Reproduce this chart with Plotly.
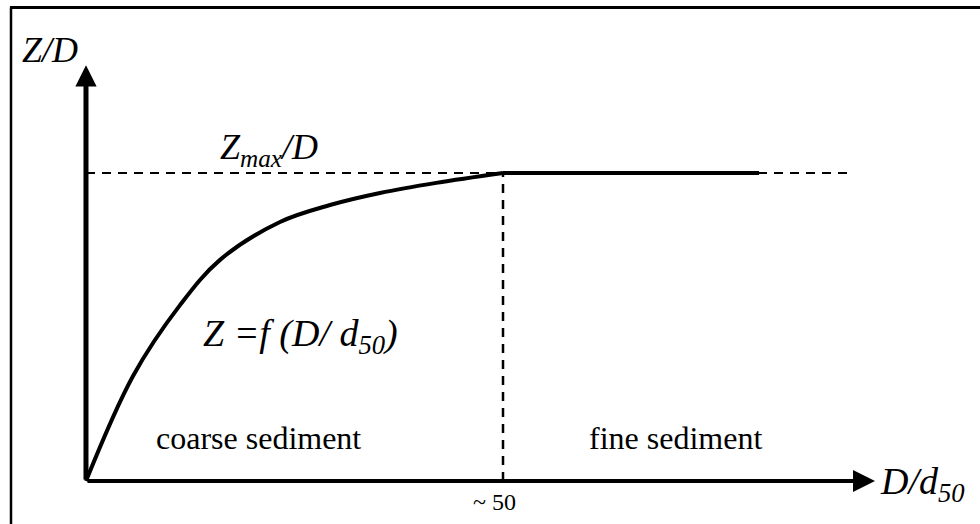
import plotly.graph_objects as go

# ---- data ----
curve_x = [0, 5.64, 11.27, 16.07, 23.26, 29.26, 35.25, 42.0, 50]
curve_y = [0, 0.341, 0.571, 0.718, 0.841, 0.896, 0.935, 0.968, 1.0]
zmax = 1.0
x_transition = 50
plateau_x = [50, 80.7]
dashed_end = 91.6
x_axis_end = 94.6
y_axis_end = 1.35
tick_label = "~ 50"

W, H = 980, 524
# axis ranges so that the plot fills the window
x_range = [-10.31, 107.19]
y_range = [-0.1396, 1.5617]

SERIF = "Liberation Serif, Times New Roman, serif"

fig = go.Figure()

# horizontal dashed Zmax/D line
fig.add_trace(go.Scatter(x=[0, dashed_end], y=[zmax, zmax], mode="lines",
                         line=dict(color="black", width=2, dash="9px,7px"),
                         hoverinfo="skip", showlegend=False))
# vertical dashed line at ~50
fig.add_trace(go.Scatter(x=[x_transition, x_transition], y=[0, zmax], mode="lines",
                         line=dict(color="black", width=2.5, dash="9px,7px"),
                         hoverinfo="skip", showlegend=False))
# curve
fig.add_trace(go.Scatter(x=curve_x, y=curve_y, mode="lines",
                         line=dict(color="black", width=4, shape="spline", smoothing=1.0),
                         hoverinfo="skip", showlegend=False))
# plateau
fig.add_trace(go.Scatter(x=plateau_x, y=[zmax, zmax], mode="lines",
                         line=dict(color="black", width=4),
                         hoverinfo="skip", showlegend=False))

annotations = []
# y axis arrow
annotations.append(dict(x=0, y=y_axis_end, ax=0, ay=0, xref="x", yref="y", axref="x", ayref="y",
                        showarrow=True, arrowhead=2, arrowsize=0.85, arrowwidth=5,
                        arrowcolor="black", text=""))
# x axis arrow
annotations.append(dict(x=x_axis_end, y=0, ax=0, ay=0, xref="x", yref="y", axref="x", ayref="y",
                        showarrow=True, arrowhead=2, arrowsize=1.1, arrowwidth=4,
                        arrowcolor="black", text=""))


def px(xp, yp):
    return xp / W, 1 - yp / H


def label(text, xp, yp, size, xanchor="left", yanchor="middle"):
    x, y = px(xp, yp)
    annotations.append(dict(text=text, x=x, y=y, xref="paper", yref="paper",
                            xanchor=xanchor, yanchor=yanchor, showarrow=False,
                            font=dict(family=SERIF, size=size, color="black")))


label("<i>Z/D</i>", 20, 50, 36)
label("<i>Z<sub>max</sub>/D</i>", 218, 149, 36)
label("<i>Z =f (D/ d<sub>50</sub>)</i>", 201, 336, 38)
label("coarse sediment", 258, 438, 32, xanchor="center")
label("fine sediment", 675, 438, 32, xanchor="center")
label("<i>D/d<sub>50</sub></i>", 878, 484, 38)
label(tick_label, 494, 502, 24, xanchor="center")

fig.update_layout(
    width=W, height=H,
    margin=dict(l=0, r=0, t=0, b=0),
    paper_bgcolor="white", plot_bgcolor="white",
    xaxis=dict(range=x_range, visible=False, domain=[0, 1]),
    yaxis=dict(range=y_range, visible=False, domain=[0, 1]),
    annotations=annotations,
    shapes=[
        dict(type="line", xref="paper", yref="paper", x0=10 / W, x1=1, y0=1 - 7.5 / H, y1=1 - 7.5 / H,
             line=dict(color="black", width=3)),
        dict(type="line", xref="paper", yref="paper", x0=11 / W, x1=11 / W, y0=0, y1=1 - 7.5 / H,
             line=dict(color="black", width=2.5)),
    ],
)

fig.write_html("out.html")
